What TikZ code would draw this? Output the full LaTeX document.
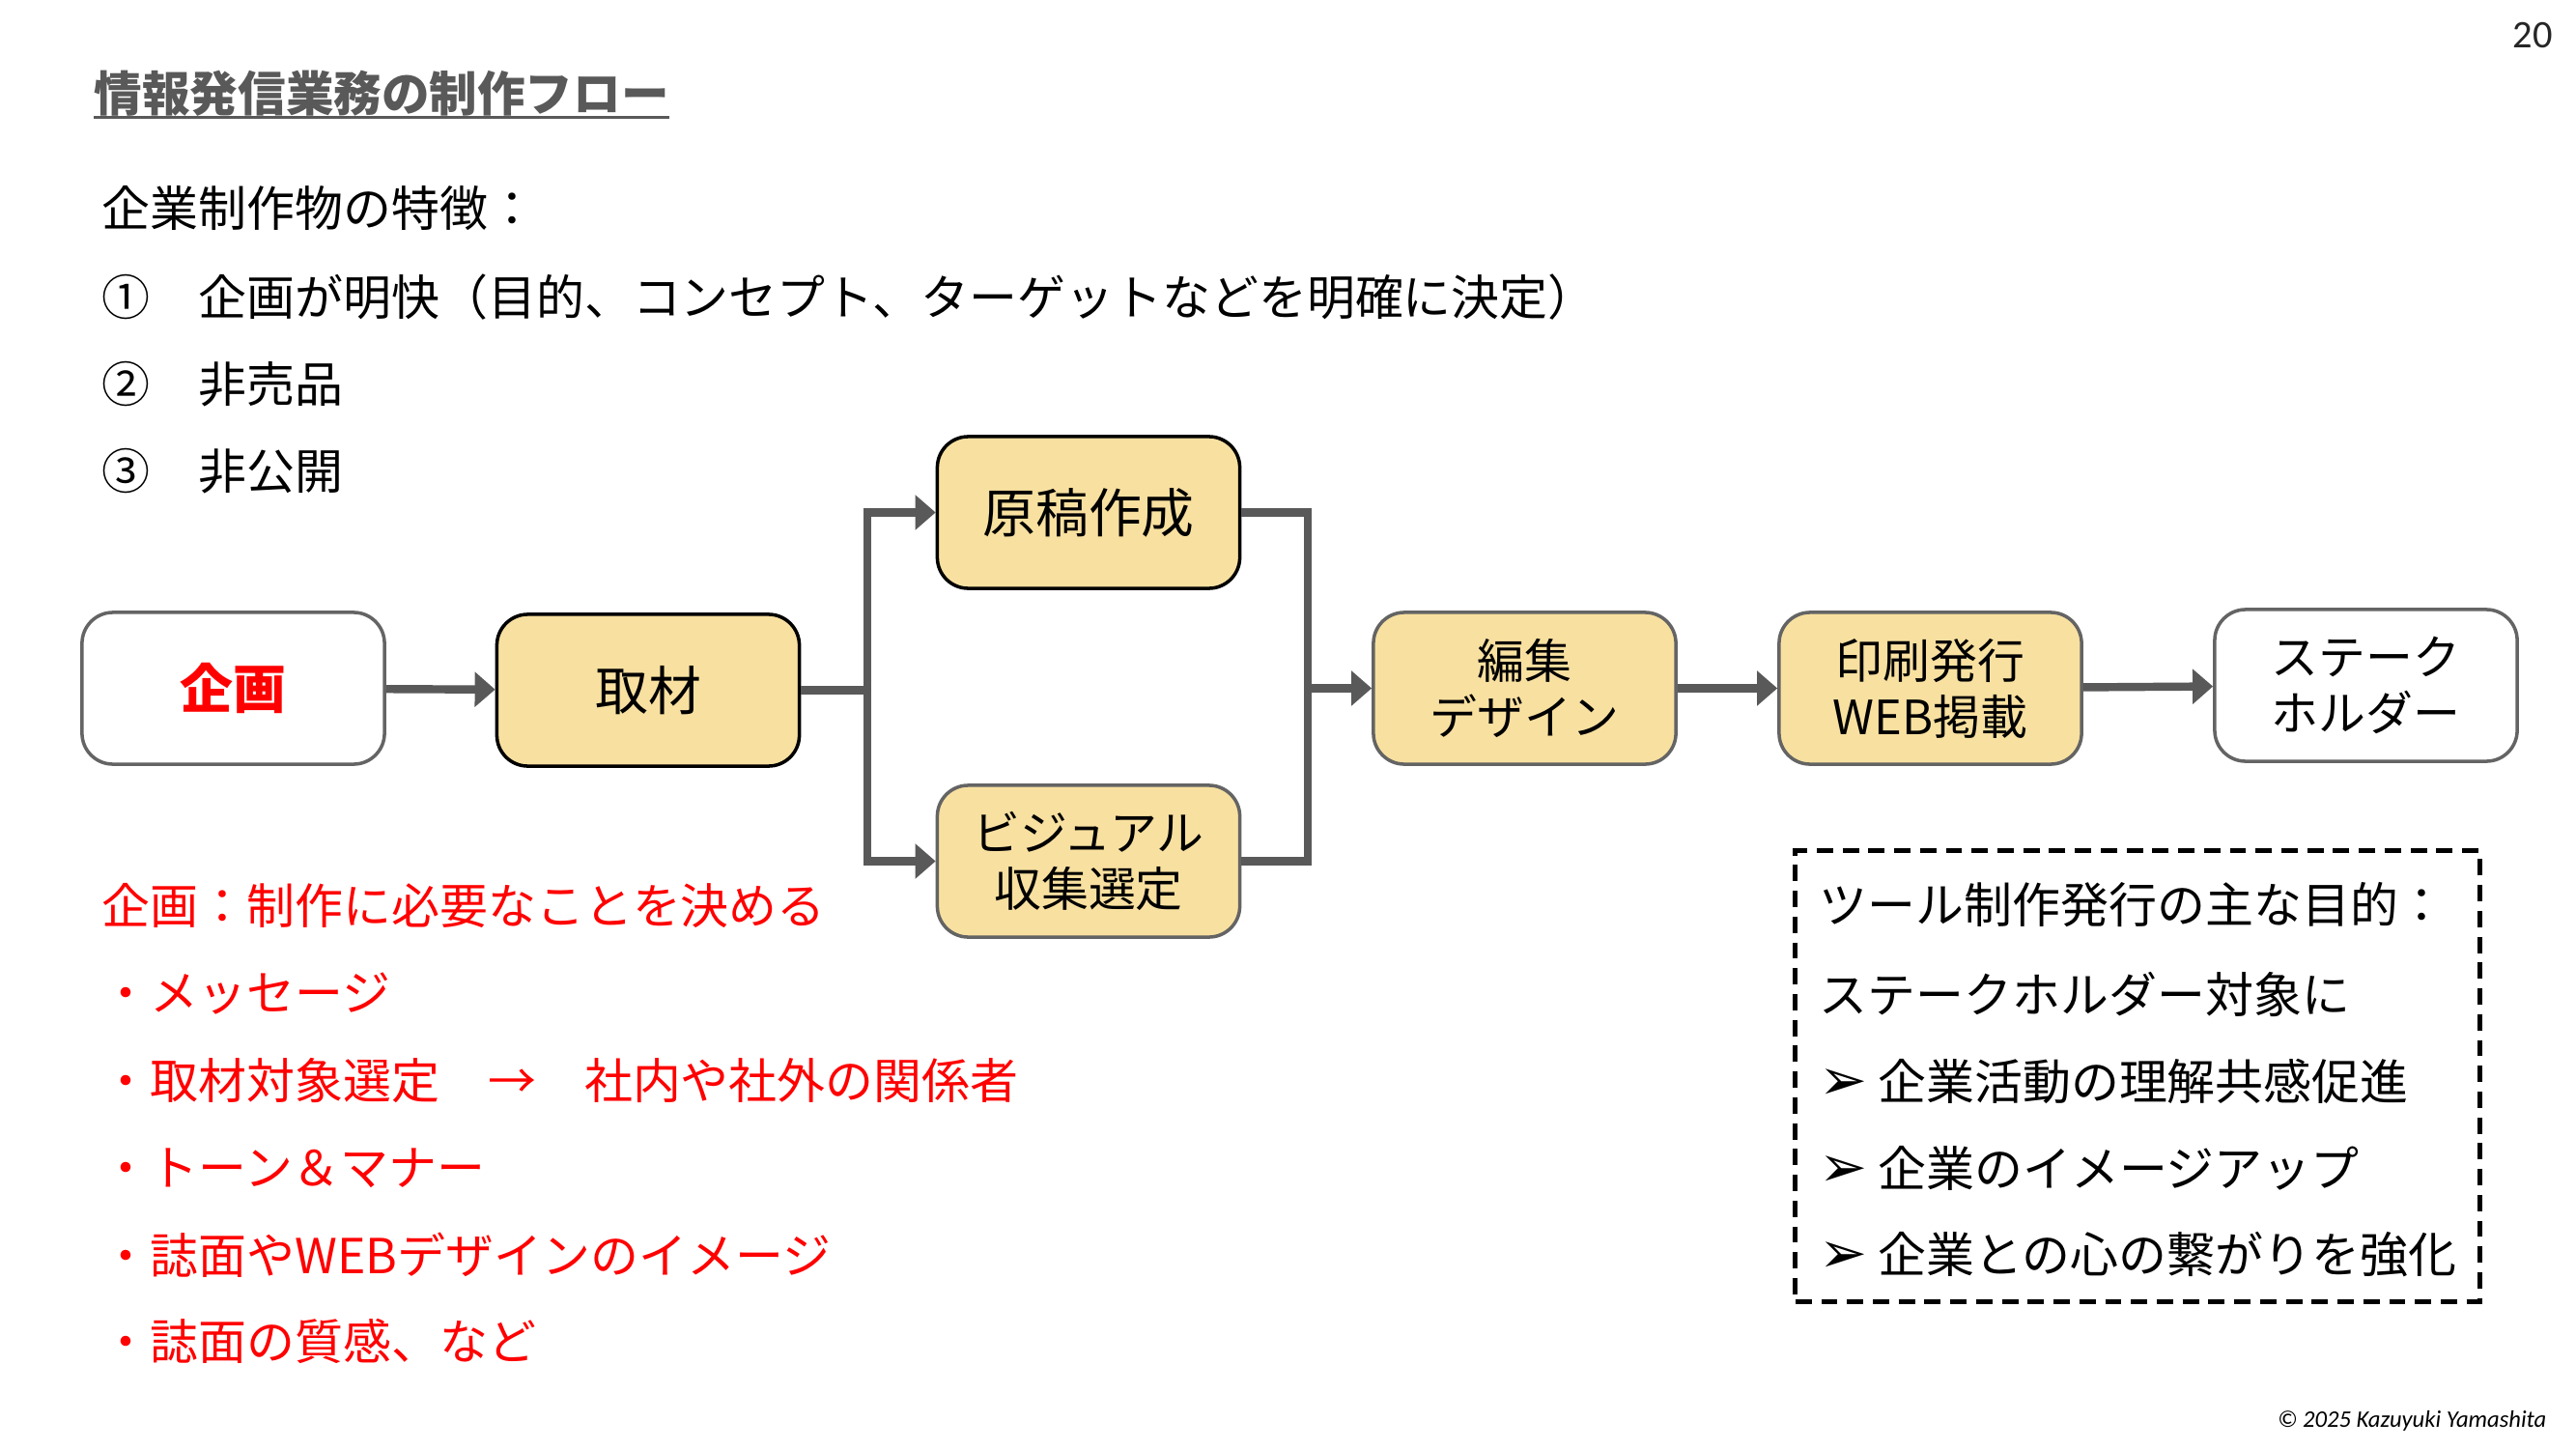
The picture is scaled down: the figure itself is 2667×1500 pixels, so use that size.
\documentclass[tikz,border=0pt]{standalone}
\usepackage{fontspec}
\setmainfont{Noto Sans CJK JP}
\newfontfamily\dejavu{DejaVu Sans}
\newfontfamily\carlito{Carlito}
\usetikzlibrary{arrows.meta}
\definecolor{gold}{RGB}{248,224,160}
\definecolor{linegray}{RGB}{89,89,89}
\definecolor{bordergray}{RGB}{100,100,100}
\definecolor{titlegray}{RGB}{89,89,89}
\definecolor{pred}{RGB}{255,0,0}
\newcommand\fsbody{\fontsize{14.2pt}{16.5pt}\selectfont}
\newcommand\fsbig{\fontsize{15.6pt}{18pt}\selectfont}
\newcommand\bul{{\dejavu\fontsize{17pt}{18pt}\selectfont ➢}\hspace{3pt}}
\begin{document}
\begin{tikzpicture}[x=0.01cm,y=-0.01cm,
 flowbox/.style={draw, rounded corners=0.32cm, minimum width=3.13cm, minimum height=1.57cm, line width=1pt, align=center, inner sep=0pt, font=\fontsize{13.9pt}{16.5pt}\selectfont},
 goldbox/.style={flowbox, fill=gold, draw=bordergray},
 whitebox/.style={flowbox, fill=white, draw=bordergray},
 conn/.style={draw=linegray, line width=2.4pt, line join=miter},
 arr/.style={conn, -{Triangle[length=6pt,width=10pt]}},
 txt/.style={anchor=west, inner sep=0pt, font=\fsbody},
 redtxt/.style={txt, text=pred},
]
\fill[white] (0,0) rectangle (2667,1500);
\useasboundingbox (0,0) rectangle (2667,1500);

% title
\node[txt, font=\fontsize{14.1pt}{17pt}\selectfont\bfseries, text=titlegray] (title) at (97,97) {情報発信業務の制作フロー};
\draw[titlegray, line width=0.9pt] ([yshift=-1.6pt]title.base west) -- ([yshift=-1.6pt]title.base east);

% page number and copyright
\node[font=\carlito\fontsize{11.5pt}{13pt}\selectfont, text=black!85] (pnum) at (2622,37) {20};
\node[anchor=east, inner sep=0pt, font=\carlito\itshape\fontsize{7pt}{8pt}\selectfont] (copyr) at (2637,1471) {© 2025 Kazuyuki Yamashita};

% features
\node[txt] (feat) at (105,216) {企業制作物の特徴：};
\node[txt] (f1) at (105,308) {①　企画が明快（目的、コンセプト、ターゲットなどを明確に決定）};
\node[txt] (f2) at (105,398) {②　非売品};
\node[txt] (f3) at (105,488) {③　非公開};

% flow nodes
\node[whitebox] (kikaku) at (241.5,712.5) {\fsbig\bfseries\color{pred}企画};
\node[goldbox, draw=black] (shuzai) at (671,714.5) {\fsbig 取材};
\node[goldbox, draw=black] (genko) at (1127,530.5) {\fsbig 原稿作成};
\node[goldbox] (visual) at (1127,891.5) {ビジュアル\\収集選定};
\node[goldbox] (edit) at (1578.5,712.5) {編集\\デザイン};
\node[goldbox] (print) at (1998.5,712.5) {印刷発行\\WEB掲載};
\node[whitebox] (stake) at (2449.5,709.5) {ステーク\\ホルダー};

% connectors
\coordinate (sp) at (898,714.5);
\coordinate (mg) at (1354,712.5);
\draw[arr] (kikaku) -- (shuzai);
\draw[conn] (shuzai.east) -- (sp);
\draw[arr] (sp) |- (genko.west);
\draw[arr] (sp) |- (visual.west);
\draw[conn] (genko.east) -| (mg) |- (visual.east);
\draw[arr] (mg) -- (edit.west);
\draw[arr] (edit) -- (print);
\draw[arr] (print) -- (stake);

% red notes
\node[redtxt] (r0) at (105,937) {企画：制作に必要なことを決める};
\node[redtxt] (r1) at (105,1029) {・メッセージ};
\node[redtxt] (r2) at (105,1119) {・取材対象選定　→　社内や社外の関係者};
\node[redtxt] (r3) at (105,1209) {・トーン＆マナー};
\node[redtxt] (r4) at (105,1299) {・誌面やWEBデザインのイメージ};
\node[redtxt] (r5) at (105,1388) {・誌面の質感、など};

% goals box
\node[draw=black, line width=1.4pt, dash pattern=on 4.8pt off 2.8pt, minimum width=7.08cm, minimum height=4.66cm, inner sep=0pt] (goalbox) at (2213,1114) {};
\node[txt] (g0) at (1883,937) {ツール制作発行の主な目的：};
\node[txt] (g1) at (1883,1029) {ステークホルダー対象に};
\node[txt] (g2) at (1883,1119) {\bul 企業活動の理解共感促進};
\node[txt] (g3) at (1883,1209) {\bul 企業のイメージアップ};
\node[txt] (g4) at (1883,1299) {\bul 企業との心の繋がりを強化};
\end{tikzpicture}
\end{document}
